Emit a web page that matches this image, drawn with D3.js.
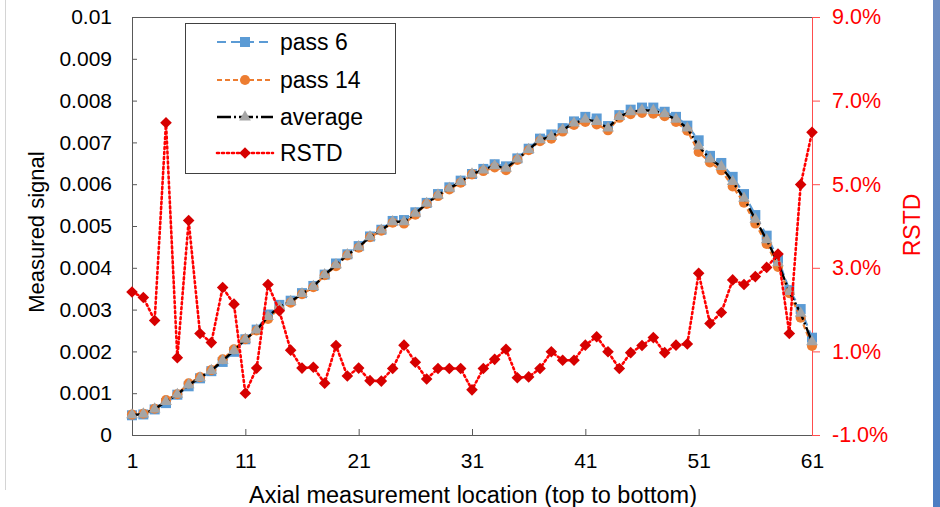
<!DOCTYPE html>
<html><head><meta charset="utf-8">
<script src="https://cdn.jsdelivr.net/npm/d3@7"></script>
<style>
body{margin:0;background:#fff;}
svg{display:block;font-family:"Liberation Sans",Arial,sans-serif;}
</style>
</head><body>
<svg id="chart" width="940" height="507"></svg>
<script>
// ---------- data ----------
const locations = [1,2,3,4,5,6,7,8,9,10,11,12,13,14,15,16,17,18,19,20,21,22,23,24,25,26,27,28,29,30,
  31,32,33,34,35,36,37,38,39,40,41,42,43,44,45,46,47,48,49,50,51,52,53,54,55,56,57,58,59,60,61];

const pass6 = [0.000472,0.000492,0.000612,0.000763,0.000964,0.001165,0.001356,0.001527,0.001748,0.001990,
  0.002290,0.002521,0.002882,0.003113,0.003213,0.003394,0.003566,0.003837,0.004103,0.004323,
  0.004519,0.004750,0.004910,0.005121,0.005142,0.005328,0.005553,0.005764,0.005925,0.006085,
  0.006244,0.006366,0.006477,0.006427,0.006617,0.006849,0.007090,0.007190,0.007341,0.007502,
  0.007611,0.007572,0.007391,0.007652,0.007783,0.007833,0.007833,0.007733,0.007611,0.007401,
  0.007050,0.006678,0.006508,0.006176,0.005764,0.005262,0.004769,0.004217,0.003465,0.003013,0.002328];

const pass14 = [0.000488,0.000508,0.000628,0.000837,0.000976,0.001235,0.001384,0.001553,0.001812,0.002050,
  0.002290,0.002499,0.002778,0.003027,0.003167,0.003366,0.003534,0.003823,0.004037,0.004297,
  0.004481,0.004730,0.004890,0.005079,0.005058,0.005272,0.005527,0.005716,0.005875,0.006035,
  0.006236,0.006314,0.006403,0.006333,0.006583,0.006811,0.007030,0.007090,0.007259,0.007418,
  0.007489,0.007428,0.007289,0.007588,0.007677,0.007707,0.007687,0.007627,0.007489,0.007279,
  0.006770,0.006522,0.006332,0.005944,0.005556,0.005058,0.004571,0.004023,0.003395,0.002807,0.002132];

const average = [0.00048,0.00050,0.00062,0.00080,0.00097,0.00120,0.00137,0.00154,0.00178,0.00202,
  0.00229,0.00251,0.00283,0.00307,0.00319,0.00338,0.00355,0.00383,0.00407,0.00431,
  0.00450,0.00474,0.00490,0.00510,0.00510,0.00530,0.00554,0.00574,0.00590,0.00606,
  0.00624,0.00634,0.00644,0.00638,0.00660,0.00683,0.00706,0.00714,0.00730,0.00746,
  0.00755,0.00750,0.00734,0.00762,0.00773,0.00777,0.00776,0.00768,0.00755,0.00734,
  0.00691,0.00660,0.00642,0.00606,0.00566,0.00516,0.00467,0.00412,0.00343,0.00291,0.00223];

// RSTD in percent
const rstd = [2.42,2.29,1.74,6.47,0.85,4.13,1.43,1.21,2.53,2.13,
  0.00,0.60,2.60,1.97,1.03,0.60,0.62,0.24,1.14,0.41,
  0.60,0.30,0.29,0.59,1.15,0.74,0.34,0.59,0.59,0.59,
  0.08,0.59,0.81,1.05,0.37,0.39,0.59,0.99,0.79,0.79,
  1.15,1.35,0.99,0.59,0.97,1.14,1.33,0.97,1.15,1.18,
  2.87,1.67,1.93,2.71,2.60,2.79,3.01,3.33,1.43,4.99,6.24];

const xTickValues = [1,11,21,31,41,51,61];
const yTickValues = [0,0.001,0.002,0.003,0.004,0.005,0.006,0.007,0.008,0.009,0.01];
const yTickLabels = ["0","0.001","0.002","0.003","0.004","0.005","0.006","0.007","0.008","0.009","0.01"];
const rTickValues = [-1,1,3,5,7,9];
const rTickLabels = ["-1.0%","1.0%","3.0%","5.0%","7.0%","9.0%"];

const seriesNames = ["pass 6","pass 14","average","RSTD"];

// ---------- layout ----------
const svg = d3.select("#chart");
const L = 132, R = 812, T = 17, B = 435;
const FS = 21;

const x = d3.scaleLinear().domain([1,61]).range([L,R]);
const y = d3.scaleLinear().domain([0,0.01]).range([B,T]);
const yr = d3.scaleLinear().domain([-1,9]).range([B,T]);

// slide decorations
const defs = svg.append("defs");
const grad = defs.append("linearGradient").attr("id","band").attr("x1",0).attr("y1",0).attr("x2",0).attr("y2",1);
grad.append("stop").attr("offset","0").attr("stop-color","#6d8dc2");
grad.append("stop").attr("offset","1").attr("stop-color","#4d7ec3");
svg.append("rect").attr("x",933).attr("y",0).attr("width",7).attr("height",507).attr("fill","url(#band)");
svg.append("line").attr("x1",5.5).attr("x2",5.5).attr("y1",0).attr("y2",490).attr("stroke","#d4d4d4").attr("stroke-width",1);

// plot frame (top border)
svg.append("line").attr("x1",L).attr("x2",R).attr("y1",T+0.5).attr("y2",T+0.5).attr("stroke","#595959");

// axes
const gL = svg.append("g").attr("transform",`translate(${L},0)`)
  .call(d3.axisLeft(y).tickValues(yTickValues).tickFormat((d,i)=>yTickLabels[i]).tickSize(-5).tickPadding(20));
gL.select(".domain").attr("stroke","#595959");
gL.selectAll(".tick line").attr("stroke","#595959");
gL.selectAll("text").attr("font-size",FS).attr("fill","#000").attr("font-family","Liberation Sans, Arial, sans-serif");

const gB = svg.append("g").attr("transform",`translate(0,${B})`)
  .call(d3.axisBottom(x).tickValues(xTickValues).tickFormat(d3.format("d")).tickSize(-6).tickPadding(18));
gB.select(".domain").attr("stroke","#595959");
gB.selectAll(".tick line").attr("stroke","#595959");
gB.selectAll("text").attr("font-size",FS).attr("fill","#000").attr("font-family","Liberation Sans, Arial, sans-serif");

const gR = svg.append("g").attr("transform",`translate(${R},0)`)
  .call(d3.axisRight(yr).tickValues(rTickValues).tickFormat((d,i)=>rTickLabels[i]).tickSize(8).tickPadding(12));
gR.select(".domain").attr("stroke","#ff4d4d");
gR.selectAll(".tick line").attr("stroke","#ff4d4d");
gR.selectAll("text").attr("font-size",21.5).attr("fill","#ff0000").attr("font-family","Liberation Sans, Arial, sans-serif");

// axis titles
svg.append("text").attr("transform","translate(44,232) rotate(-90)").attr("text-anchor","middle")
  .attr("font-size",22).attr("fill","#000").text("Measured signal");
svg.append("text").attr("transform","translate(920,225) rotate(-90)").attr("text-anchor","middle")
  .attr("font-size",23).attr("fill","#ff0000").text("RSTD");
svg.append("text").attr("x",473).attr("y",503).attr("text-anchor","middle")
  .attr("font-size",23.5).attr("fill","#000").text("Axial measurement location (top to bottom)");

// marker shapes
const sq = d3.symbol().type(d3.symbolSquare).size(100)();
const ci = d3.symbol().type(d3.symbolCircle).size(80)();
const tri = d3.symbol().type(d3.symbolTriangle).size(60)();
const dia = "M0,-5.8L5.8,0L0,5.8L-5.8,0Z";

const styles = [
  {data:pass6, scale:y, color:"#5b9bd5", dash:"9,5", width:2.2, mark:sq, mcol:"#5b9bd5"},
  {data:pass14, scale:y, color:"#ed7d31", dash:"5,3", width:2.2, mark:ci, mcol:"#ed7d31"},
  {data:average, scale:y, color:"#000000", dash:"14,3,2,3", width:2.4, mark:tri, mcol:"#a5a5a5"},
  {data:rstd, scale:yr, color:"#ff0000", dash:"2,3", width:2.6, mark:dia, mcol:"#d60000"}
];

styles.forEach(s=>{
  const line = d3.line().x((d,i)=>x(locations[i])).y(d=>s.scale(d));
  svg.append("path").datum(s.data).attr("d",line).attr("fill","none")
    .attr("stroke",s.color).attr("stroke-width",s.width).attr("stroke-dasharray",s.dash)
    .attr("stroke-linecap", s.data===rstd ? "round" : "butt");
  svg.append("g").selectAll("path").data(s.data).join("path")
    .attr("d",s.mark).attr("fill",s.mcol)
    .attr("transform",(d,i)=>`translate(${x(locations[i])},${s.scale(d)})`);
});

// legend
const lg = svg.append("g");
lg.append("rect").attr("x",185.5).attr("y",23.5).attr("width",210).attr("height",150)
  .attr("fill","#fff").attr("stroke","#404040").attr("stroke-width",1);
const legY = [42,80,117,153];
styles.forEach((s,i)=>{
  const yy = legY[i];
  lg.append("line").attr("x1",217).attr("x2",273).attr("y1",yy).attr("y2",yy)
    .attr("stroke",s.color).attr("stroke-width",s.width).attr("stroke-dasharray",s.dash)
    .attr("stroke-linecap", i===3 ? "round" : "butt");
  lg.append("path").attr("d",s.mark).attr("fill",s.mcol).attr("transform",`translate(245,${yy})`);
  lg.append("text").attr("x",280).attr("y",yy).attr("dy","0.35em").attr("font-size",23)
    .attr("fill","#000").text(seriesNames[i]);
});
</script>
</body></html>
